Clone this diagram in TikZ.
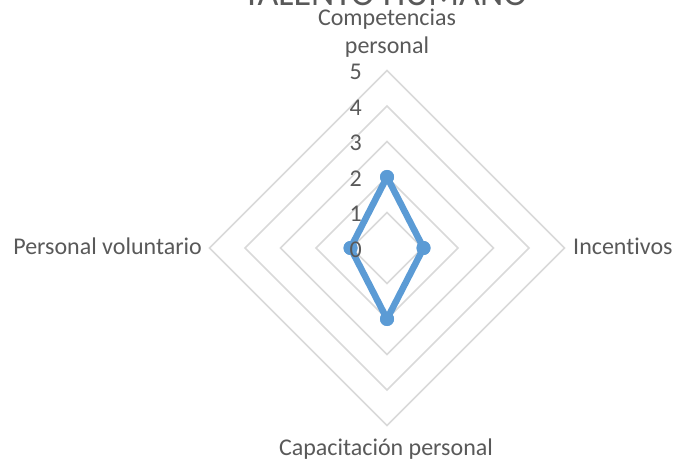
\documentclass[tikz,border=0pt]{standalone}
\usepackage{fontspec}
\setmainfont[Ligatures=NoCommon]{Carlito}
\definecolor{txt}{HTML}{595959}
\definecolor{gridc}{HTML}{D9D9D9}
\definecolor{ser}{HTML}{5B9BD5}
\begin{document}
\begin{tikzpicture}[x=1bp,y=-1bp,
  lbl/.style={text=txt,font=\fontsize{24bp}{28bp}\selectfont,inner sep=0pt},
  gridline/.style={draw=gridc,line width=1.5bp},
  serline/.style={draw=ser,line width=6.5bp,line join=round},
  dot/.style={circle,fill=ser,draw=none,minimum size=14bp,inner sep=0pt}]
\useasboundingbox (0,0) rectangle (675,467);
\coordinate (c) at (387,248);
% grid rings
\foreach \r in {1,...,5}
  \draw[gridline] (387,{248-35.5*\r}) -- ({387+35.5*\r},248) -- (387,{248+35.5*\r}) -- ({387-35.5*\r},248) -- cycle;
% series
\node[dot] (pA) at (387,177) {};
\node[dot] (pB) at (423.5,248) {};
\node[dot] (pC) at (387,319) {};
\node[dot] (pD) at (350.5,248) {};
\draw[serline] (pA.center) -- (pB.center) -- (pC.center) -- (pD.center) -- cycle;
\node[dot] at (pA) {};
\node[dot] at (pB) {};
\node[dot] at (pC) {};
\node[dot] at (pD) {};
% tick labels
\foreach \r in {0,...,5}
  \node[lbl,anchor=east] (t\r) at (362,{249.5-35.5*\r}) {\r};
% category labels
\node[lbl,anchor=base,align=center] (cat1) at (387,54) {Competencias\\personal};
\node[lbl,anchor=base east] (cat4) at (202,255) {Personal voluntario};
\node[lbl,anchor=base west] (cat2) at (573,255) {Incentivos};
\node[lbl,anchor=base] (cat3) at (386,455) {Capacitación personal};
% title
\node[text=txt,font=\fontsize{36bp}{40bp}\selectfont,anchor=base,inner sep=0pt] (title) at (385,6) {TALENTO HUMANO};
\end{tikzpicture}
\end{document}
